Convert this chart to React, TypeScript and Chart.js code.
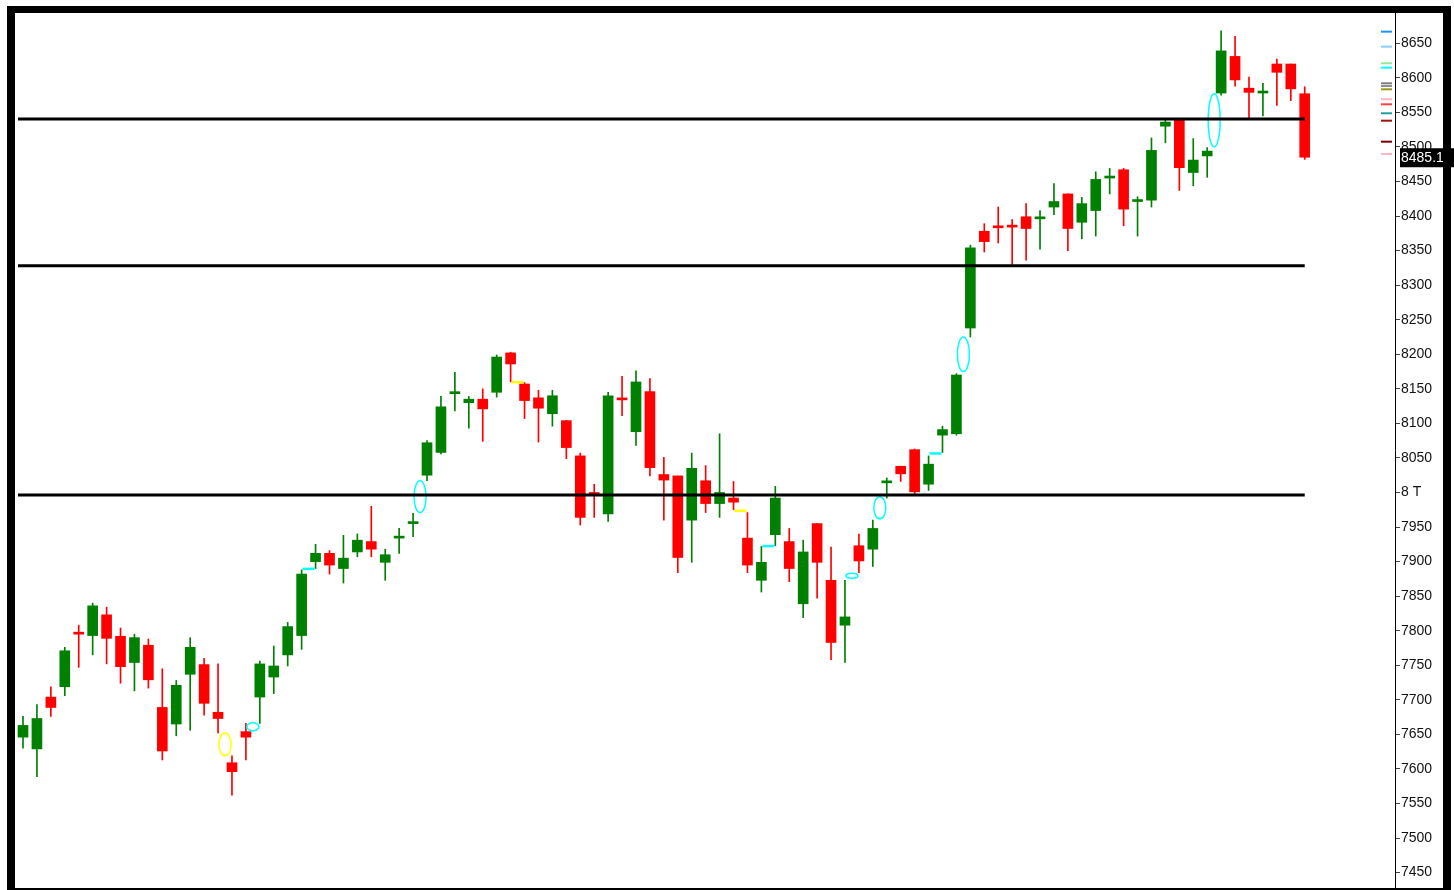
import React, { useEffect, useRef } from 'react';
import { Chart, registerables } from 'chart.js';

Chart.register(...registerables);

// ---- Data ----
const OPEN = [
  7646, 7629, 7704, 7719, 7797, 7793, 7823, 7792, 7754, 7779,
  7689, 7665, 7737, 7751, 7682, 7609, 7654, 7704, 7733, 7765,
  7793, 7900, 7912, 7890, 7914, 7929, 7899, 7934, 7955, 8025,
  8058, 8143, 8130, 8135, 8145, 8202, 8157, 8137, 8114, 8104,
  8053, 8000, 7969, 8136, 8088, 8146, 8026, 8024, 7960, 8017,
  7984, 7992, 7934, 7873, 7939, 7929, 7839, 7955, 7873, 7808,
  7923, 7918, 8014, 8038, 8062, 8012, 8083, 8085, 8238, 8378,
  8385, 8386, 8399, 8396, 8413, 8432, 8391, 8408, 8455, 8467,
  8421, 8423, 8530, 8540, 8463, 8487, 8578, 8631, 8585, 8578,
  8620, 8620, 8577,
];
const HIGH = [
  7676, 7693, 7719, 7776, 7808, 7840, 7834, 7804, 7795, 7788,
  7745, 7728, 7790, 7760, 7752, 7619, 7666, 7756, 7778, 7812,
  7888, 7925, 7916, 7938, 7940, 7980, 7918, 7948, 7970, 8075,
  8139, 8174, 8139, 8150, 8199, 8203, 8159, 8148, 8148, 8104,
  8057, 8012, 8145, 8168, 8176, 8165, 8051, 8024, 8057, 8039,
  8085, 8016, 7971, 7922, 8009, 7948, 7931, 7955, 7921, 7873,
  7940, 7960, 8021, 8038, 8063, 8053, 8096, 8172, 8358, 8389,
  8413, 8395, 8418, 8408, 8447, 8432, 8427, 8464, 8469, 8469,
  8428, 8513, 8539, 8540, 8512, 8499, 8668, 8660, 8601, 8592,
  8627, 8620, 8587,
];
const LOW = [
  7630, 7589, 7676, 7706, 7747, 7765, 7752, 7724, 7713, 7717,
  7613, 7648, 7656, 7678, 7652, 7562, 7613, 7666, 7709, 7749,
  7773, 7890, 7882, 7869, 7907, 7907, 7873, 7912, 7936, 8017,
  8056, 8118, 8093, 8074, 8138, 8160, 8107, 8073, 8096, 8049,
  7953, 7964, 7958, 8111, 8068, 8024, 7960, 7884, 7899, 7971,
  7964, 7975, 7884, 7856, 7923, 7871, 7819, 7847, 7758, 7754,
  7884, 7893, 7992, 8016, 7998, 8003, 8058, 8083, 8225, 8348,
  8361, 8329, 8336, 8352, 8402, 8350, 8367, 8371, 8432, 8386,
  8371, 8413, 8506, 8437, 8444, 8456, 8575, 8588, 8541, 8545,
  8560, 8567, 8482,
];
const CLOSE = [
  7663, 7673, 7689, 7771, 7795, 7836, 7789, 7748, 7790, 7729,
  7626, 7721, 7776, 7695, 7673, 7596, 7646, 7752, 7749, 7806,
  7882, 7912, 7895, 7905, 7931, 7918, 7910, 7936, 7957, 8072,
  8124, 8145, 8135, 8121, 8196, 8186, 8133, 8122, 8140, 8065,
  7964, 7997, 8140, 8134, 8160, 8036, 8018, 7906, 8035, 7984,
  8000, 7986, 7895, 7899, 7992, 7890, 7914, 7899, 7783, 7820,
  7901, 7948, 8016, 8027, 8001, 8041, 8091, 8170, 8354, 8363,
  8383, 8384, 8382, 8398, 8421, 8382, 8418, 8453, 8457, 8410,
  8423, 8495, 8536, 8470, 8481, 8494, 8639, 8597, 8579, 8580,
  8608, 8584, 8485.1,
];

// horizontal support / resistance levels
const LEVELS = [8540.5, 8328, 7996.5];

// gap markers between candles (position in candle units, low, high, colour)
const GAP_POS = [14.5, 16.5, 20.5, 28.5, 35.5, 51.5, 53.5, 59.5, 61.5, 65.5, 67.5, 85.5];
const GAP_LO = [7619, 7655, 7889, 7971, 8159, 7973, 7922, 7876, 7962, 8056, 8175, 8500];
const GAP_HI = [7652, 7667, 7890, 8017, 8160, 7974, 7923, 7883, 7994, 8057, 8225, 8577];
const GAP_COLOR = ['#ffff00', '#00ffff', '#00ffff', '#00ffff', '#ffff00', '#ffff00', '#00ffff', '#00ffff', '#00ffff', '#00ffff', '#00ffff', '#00ffff'];

// small coloured level markers next to the price axis
const MARK_VALUES = [8666.8, 8645.1, 8621.1, 8614.7, 8592.1, 8588.2, 8583.4, 8569, 8561.7, 8548.7, 8538, 8507.6, 8489.8];
const MARK_COLORS = ['#1e90ff', '#87cefa', '#98e698', '#00ffff', '#808080', '#909090', '#9a9a20', '#ffb6c1', '#ff4040', '#20a0a0', '#a01010', '#800000', '#ffb6c1'];

// price axis
const TICK_VALUES = [
  7450, 7500, 7550, 7600, 7650, 7700, 7750, 7800, 7850, 7900, 7950, 8000, 8050,
  8100, 8150, 8200, 8250, 8300, 8350, 8400, 8450, 8500, 8550, 8600, 8650,
];
const TICK_LABELS = [
  '7450', '7500', '7550', '7600', '7650', '7700', '7750', '7800', '7850', '7900', '7950', '8 T', '8050',
  '8100', '8150', '8200', '8250', '8300', '8350', '8400', '8450', '8500', '8550', '8600', '8650',
];
const LAST_PRICE = 8485.1;
const LAST_LABEL = '8485.10';

const GREEN = '#008000';
const RED = '#ff0000';
const FONT = 'Liberation Sans';

const overlayPlugin = {
  id: 'overlayPlugin',
  afterDatasetsDraw(chart: any) {
    const { ctx, chartArea } = chart;
    const xs = chart.scales.x;
    const ys = chart.scales.y;
    ctx.save();
    // gap markers
    GAP_POS.forEach((p, i) => {
      const cx = xs.getPixelForValue(p);
      const y1 = ys.getPixelForValue(GAP_LO[i]);
      const y2 = ys.getPixelForValue(GAP_HI[i]);
      const ry = Math.abs(y1 - y2) / 2;
      const cy = (y1 + y2) / 2;
      ctx.strokeStyle = GAP_COLOR[i];
      ctx.beginPath();
      if (ry < 1.5) {
        ctx.lineWidth = 2.5;
        ctx.moveTo(cx - 6, cy);
        ctx.lineTo(cx + 6, cy);
      } else {
        ctx.lineWidth = 1.5;
        ctx.ellipse(cx, cy, 6, ry, 0, 0, Math.PI * 2);
      }
      ctx.stroke();
    });
    // level lines
    ctx.strokeStyle = '#000';
    ctx.lineWidth = 3;
    const x0 = chartArea.left + 3;
    const x1 = xs.getPixelForValue(OPEN.length - 1);
    LEVELS.forEach((v) => {
      const py = ys.getPixelForValue(v);
      ctx.beginPath();
      ctx.moveTo(x0, py);
      ctx.lineTo(x1, py);
      ctx.stroke();
    });
    // coloured axis-side markers
    ctx.lineWidth = 2;
    MARK_VALUES.forEach((v, i) => {
      const py = ys.getPixelForValue(v);
      ctx.strokeStyle = MARK_COLORS[i];
      ctx.beginPath();
      ctx.moveTo(chartArea.right - 14, py);
      ctx.lineTo(chartArea.right - 3, py);
      ctx.stroke();
    });
    ctx.restore();
  },
  afterDraw(chart: any) {
    const { ctx, chartArea } = chart;
    const ys = chart.scales.y;
    const py = ys.getPixelForValue(LAST_PRICE);
    ctx.save();
    ctx.fillStyle = '#000';
    ctx.fillRect(chartArea.right + 5, py - 9, chart.width - chartArea.right - 5, 19);
    ctx.fillStyle = '#fff';
    ctx.font = `14px "${FONT}"`;
    ctx.textBaseline = 'middle';
    ctx.textAlign = 'left';
    ctx.fillText(LAST_LABEL, chartArea.right + 6, py + 1);
    ctx.restore();
  },
};

function CandleChart() {
  const ref = useRef<HTMLCanvasElement | null>(null);

  useEffect(() => {
    if (!ref.current) return;
    const up = OPEN.map((o, i) => CLOSE[i] >= o);
    const colors = up.map((u) => (u ? GREEN : RED));

    const chart = new Chart(ref.current, {
      type: 'bar',
      data: {
        datasets: [
          {
            label: 'body',
            data: OPEN.map((o, i) => ({ x: i, y: [Math.min(o, CLOSE[i]), Math.max(o, CLOSE[i])] })) as any,
            backgroundColor: colors,
            borderWidth: 0,
            barThickness: 10,
            minBarLength: 2,
            grouped: false,
            order: 0,
          } as any,
          {
            label: 'wick',
            data: OPEN.map((_, i) => ({ x: i, y: [LOW[i], HIGH[i]] })) as any,
            backgroundColor: colors,
            borderWidth: 0,
            barThickness: 1,
            grouped: false,
            order: 1,
          } as any,
        ],
      },
      options: {
        animation: false,
        responsive: false,
        devicePixelRatio: 1,
        layout: { padding: { left: 15, top: 13, right: 0, bottom: 3 } },
        plugins: { legend: { display: false }, tooltip: { enabled: false } },
        scales: {
          x: {
            type: 'linear',
            display: false,
            offset: false,
            min: -0.574,
            max: 98.48,
            bounds: 'data',
          },
          y: {
            type: 'linear',
            position: 'right',
            min: 7429.2,
            max: 8693.8,
            bounds: 'data',
            afterFit: (s: any) => {
              s.width = 59;
              s.paddingTop = 0;
              s.paddingBottom = 0;
            },
            afterBuildTicks: (s: any) => {
              s.ticks = TICK_VALUES.map((v) => ({ value: v }));
            },
            ticks: {
              autoSkip: false,
              padding: 1,
              color: '#111',
              font: { family: FONT, size: 14 },
              callback: (_v: any, idx: number) => TICK_LABELS[idx] ?? '',
            },
            grid: {
              drawOnChartArea: false,
              drawTicks: true,
              tickLength: 5,
              tickColor: '#444',
            },
            border: { display: true, color: '#000', width: 1 },
          },
        },
      } as any,
      plugins: [overlayPlugin],
    });
    return () => chart.destroy();
  }, []);

  return <canvas ref={ref} width={1454} height={890} style={{ position: 'absolute', left: 0, top: 0 }} />;
}

export default function App() {
  return (
    <div
      style={{
        position: 'fixed',
        left: 0,
        top: 0,
        width: 1454,
        height: 890,
        background: '#fff',
        overflow: 'hidden',
      }}
    >
      <CandleChart />
      <div
        style={{
          position: 'absolute',
          left: 7,
          top: 6,
          width: 1444,
          height: 884,
          boxSizing: 'border-box',
          borderLeft: '8px solid #000',
          borderTop: '7px solid #000',
          borderRight: '8px solid #000',
          borderBottom: '2px solid #000',
          pointerEvents: 'none',
        }}
      />
    </div>
  );
}
